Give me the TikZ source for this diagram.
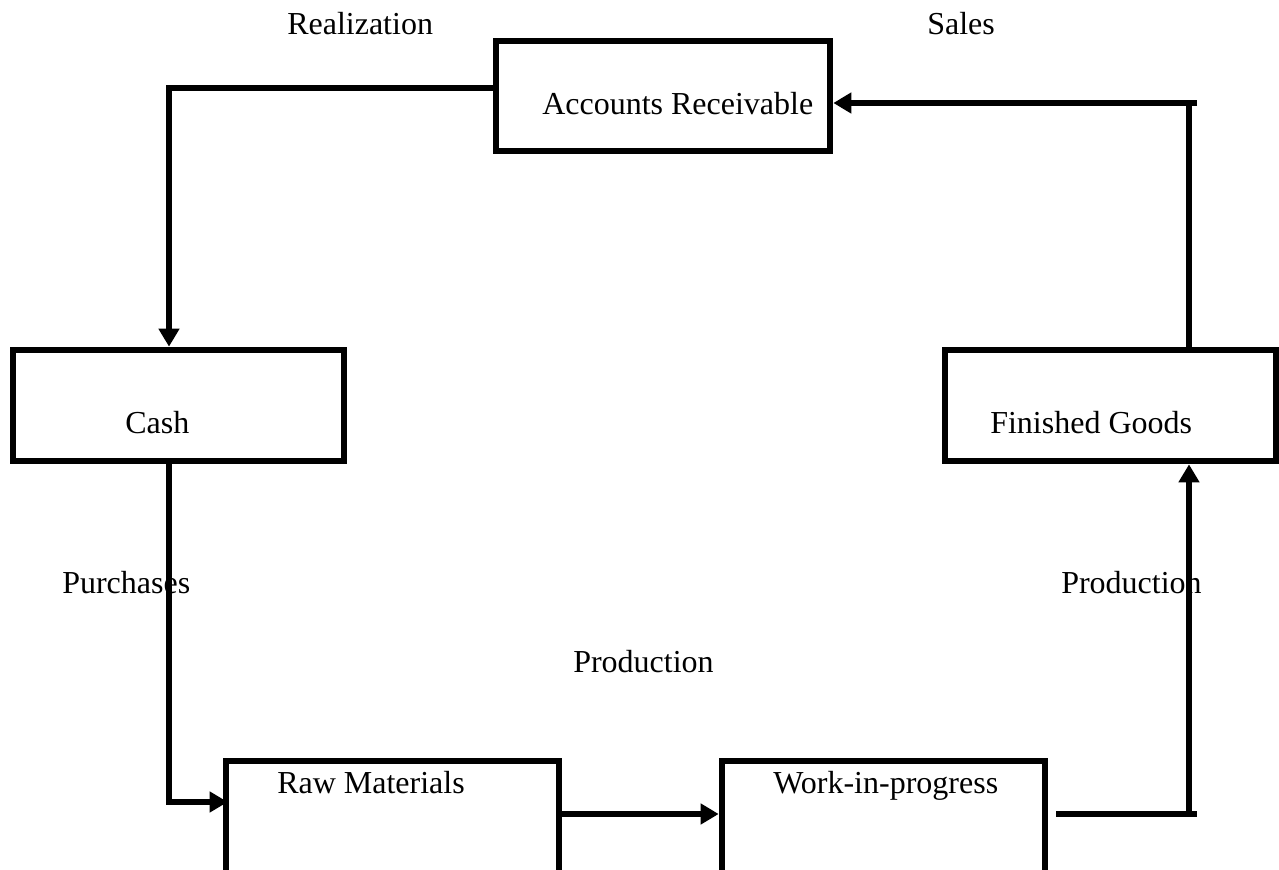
\documentclass[tikz,border=0pt]{standalone}
\usepackage{fontspec}
\setmainfont{Liberation Serif}
\usetikzlibrary{arrows.meta,calc}
\tikzset{
  box/.style={draw, line width=5pt, rectangle, inner sep=0pt, fill=none},
  lbl/.style={anchor=base west, inner sep=0pt, font=\fontsize{24}{28}\selectfont},
  conn/.style={line width=4.5pt, line join=miter},
  tip/.style={-{Triangle[length=13.5pt,width=15pt]}}
}
\begin{document}
\begin{tikzpicture}[x=0.75pt,y=-0.75pt]
\useasboundingbox (0,0) rectangle (1279,870);
\clip (0,0) rectangle (1279,870);
% boxes
\node[box, minimum width=250.5pt, minimum height=82.5pt] (ar) at (663,96) {};
\node[box, minimum width=248.25pt, minimum height=83.25pt] (cash) at (178.5,405.5) {};
\node[box, minimum width=248.25pt, minimum height=83.25pt] (fg) at (1110.5,405.5) {};
\node[box, minimum width=249.75pt, minimum height=104.25pt] (raw) at (392.5,830.5) {};
\node[box, minimum width=242.25pt, minimum height=104.25pt] (wip) at (883.5,830.5) {};
% texts
\node[lbl] (tReal) at (287,35) {Realization};
\node[lbl] (tSales) at (927,35) {Sales};
\node[lbl] (tAR) at (542,115) {Accounts Receivable};
\node[lbl] (tCash) at (125,433) {Cash};
\node[lbl] (tFG) at (990,433) {Finished Goods};
\node[lbl] (tPur) at (62,593) {Purchases};
\node[lbl] (tProdR) at (1061,593) {Production};
\node[lbl] (tProdM) at (573,672) {Production};
\node[lbl] (tRaw) at (277,793) {Raw Materials};
\node[lbl] (tWip) at (773,793) {Work-in-progress};
% connectors
\coordinate (c1) at (169,88);
\draw[conn,tip] (ar.west|-c1) -- (c1) -- (c1|-cash.north);
\coordinate (c2) at (169,802);
\draw[conn,tip] (c2|-cash.south) -- (c2) -- ($(raw.west|-c2)+(5,0)$);
\coordinate (c3) at (0,814);
\draw[conn,tip] (raw.east|-c3) -- (wip.west|-c3);
\coordinate (c4) at (1197,814);
\draw[conn] ($(wip.east|-c4)+(8,0)$) -- (c4);
\coordinate (c5) at (1189,814);
\draw[conn,tip] (c5) -- (c5|-fg.south);
\coordinate (c6) at (1189,103);
\coordinate (c7) at (1197,103);
\draw[conn] (c6|-fg.north) -- (c6);
\draw[conn,tip] (c7) -- (ar.east|-c7);
\end{tikzpicture}
\end{document}
